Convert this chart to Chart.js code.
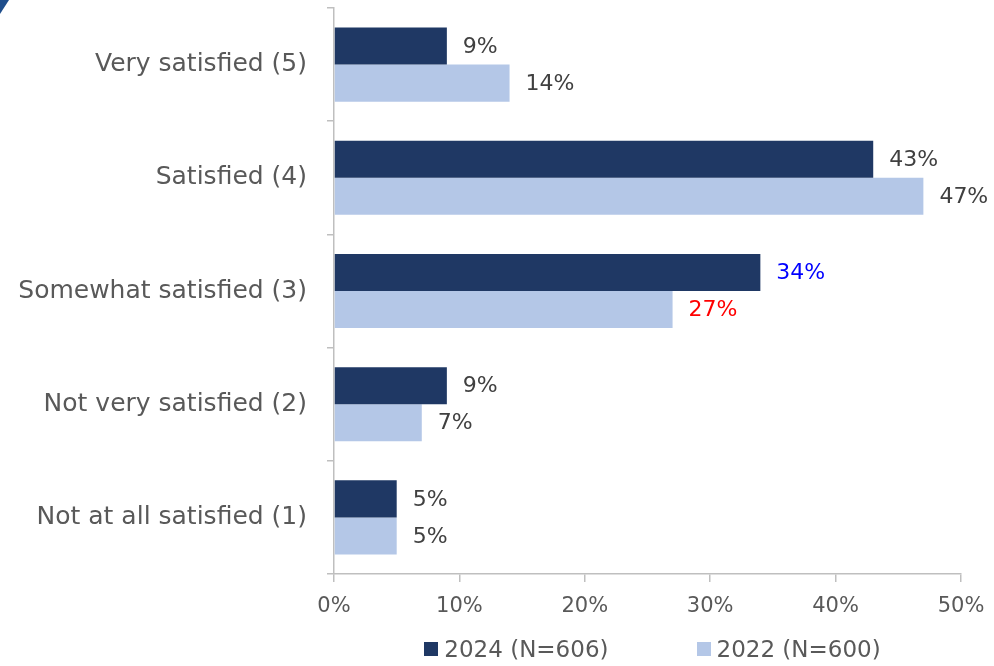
<!DOCTYPE html>
<html>
<head>
<meta charset="utf-8">
<script src="https://cdn.jsdelivr.net/npm/chart.js@4/dist/chart.umd.min.js"></script>
<style>
	html, body { margin:0; padding:0; background:#fff; }
	#wrap { position:relative; width:994px; height:666px; overflow:hidden; }
	#corner { position:absolute; left:0; top:0; width:9px; height:14px; background:#1f4e8c; clip-path:polygon(0 0,100% 0,0 100%); }
	#legend { position:absolute; left:339px; top:634px; width:627px; display:flex; justify-content:center; gap:88px;
		font-family:"DejaVu Sans", sans-serif; font-size:23px; color:#595959; line-height:30px; }
	#legend span.item { display:flex; align-items:center; }
	#legend span.box { display:inline-block; width:14px; height:14px; margin-right:6px; }
</style>
</head>
<body>
<div id="wrap">
	<canvas id="grafico" width="994" height="666"></canvas>
	<div id="corner"></div>
	<div id="legend"></div>
</div>
<script>
// dati
const categorie = ['Very satisfied (5)', 'Satisfied (4)', 'Somewhat satisfied (3)', 'Not very satisfied (2)', 'Not at all satisfied (1)'];
const serie2024 = [9, 43, 34, 9, 5];
const serie2022 = [14, 47, 27, 7, 5];
const nomi = ['2024 (N=606)', '2022 (N=600)'];
const colori = ['#1f3864', '#b4c7e7'];
const coloriEtichette2024 = ['#404040', '#404040', '#0000ff', '#404040', '#404040'];
const coloriEtichette2022 = ['#404040', '#404040', '#ff0000', '#404040', '#404040'];
const tickX = [0, 10, 20, 30, 40, 50];

const FONT = '"DejaVu Sans", sans-serif';
const GRIGIO = '#595959';
const ASSE = '#bfbfbf';

// etichette valori a destra delle barre
const etichette = {
	id: 'etichette',
	afterDatasetsDraw(chart){
		const ctx = chart.ctx;
		const colEt = [coloriEtichette2024, coloriEtichette2022];
		ctx.save();
		ctx.font = '22px ' + FONT;
		ctx.textAlign = 'left';
		ctx.textBaseline = 'middle';
		chart.data.datasets.forEach((ds, i) => {
			const meta = chart.getDatasetMeta(i);
			meta.data.forEach((bar, j) => {
				ctx.fillStyle = colEt[i][j];
				ctx.fillText(ds.data[j] + '%', bar.x + 16, bar.y + 1);
			});
		});
		ctx.restore();
	}
};

const ctx = document.getElementById('grafico').getContext('2d');
const chart = new Chart(ctx, {
	type: 'bar',
	data: {
		labels: categorie,
		datasets: [
			{ label: nomi[0], data: serie2024, backgroundColor: colori[0], barPercentage: 1, categoryPercentage: 0.655 },
			{ label: nomi[1], data: serie2022, backgroundColor: colori[1], barPercentage: 1, categoryPercentage: 0.655 }
		]
	},
	options: {
		indexAxis: 'y',
		responsive: false,
		animation: false,
		devicePixelRatio: 1,
		layout: { padding: { top: 8, right: 33, bottom: 47, left: 0 } },
		plugins: {
			legend: { display: false },
			tooltip: { enabled: false }
		},
		scales: {
			x: {
				min: 0, max: 50,
				afterBuildTicks: function(scale){
					scale.ticks = tickX.map(v => ({ value: v }));
				},
				afterFit: function(scale){
					scale.height = 45;
					scale.paddingLeft = 0;
					scale.paddingRight = 0;
				},
				grid: { drawOnChartArea: false, drawTicks: true, tickLength: 8, color: ASSE, lineWidth: 1.5 },
				border: { color: ASSE, width: 1.5 },
				ticks: {
					font: { family: FONT, size: 21 },
					color: GRIGIO,
					padding: 12,
					maxRotation: 0,
					callback: function(value){ return value + '%'; }
				}
			},
			y: {
				afterFit: function(scale){
					scale.width = 334;
					scale.paddingTop = 0;
					scale.paddingBottom = 0;
				},
				grid: { drawOnChartArea: false, drawTicks: true, tickLength: 7, offset: true, color: ASSE, lineWidth: 1.5 },
				border: { color: ASSE, width: 1.5 },
				ticks: {
					font: { family: FONT, size: 25 },
					color: GRIGIO,
					padding: 20
				}
			}
		}
	},
	plugins: [etichette]
});

// legenda in basso
const leg = document.getElementById('legend');
chart.data.datasets.forEach(ds => {
	const item = document.createElement('span');
	item.className = 'item';
	const box = document.createElement('span');
	box.className = 'box';
	box.style.background = ds.backgroundColor;
	item.appendChild(box);
	item.appendChild(document.createTextNode(ds.label));
	leg.appendChild(item);
});
</script>
</body>
</html>
